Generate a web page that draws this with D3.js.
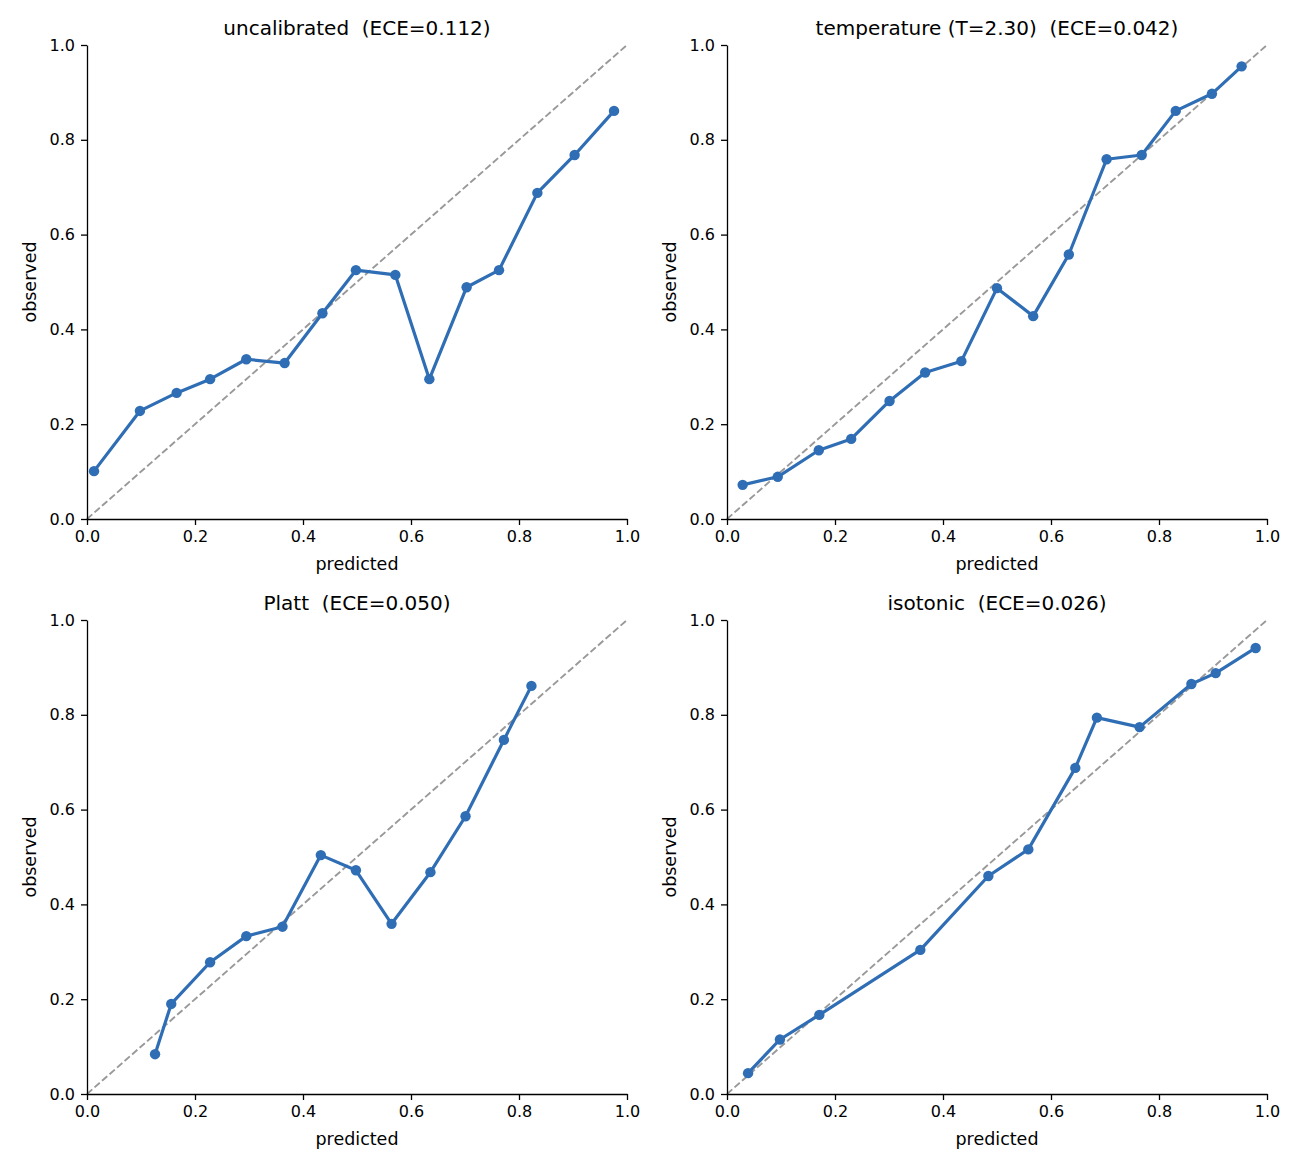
<!DOCTYPE html>
<html>
<head>
<meta charset="utf-8">
<script src="https://cdn.jsdelivr.net/npm/d3@7"></script>
<style>
  body { margin: 0; background: #fff; }
  text { font-family: "DejaVu Sans", sans-serif; fill: #000; white-space: pre; }
  .axis path, .axis line { stroke: #000; stroke-width: 1.3; }
  .axis text { font-size: 16px; }
  .chart-title { font-size: 20px; }
  .chart-axis { font-size: 17.5px; }
</style>
</head>
<body>
<svg id="fig"></svg>
<script>
// reliability bins
const uncalPred = [0.013, 0.098, 0.166, 0.228, 0.295, 0.366, 0.436, 0.498, 0.571, 0.634, 0.703, 0.763, 0.834, 0.903, 0.976];
const uncalObs  = [0.101, 0.228, 0.266, 0.295, 0.337, 0.329, 0.434, 0.525, 0.515, 0.295, 0.489, 0.525, 0.688, 0.768, 0.861];

const tempPred = [0.029, 0.094, 0.170, 0.230, 0.301, 0.367, 0.434, 0.500, 0.567, 0.633, 0.703, 0.768, 0.831, 0.898, 0.953];
const tempObs  = [0.072, 0.089, 0.145, 0.169, 0.249, 0.309, 0.333, 0.487, 0.428, 0.558, 0.759, 0.768, 0.861, 0.897, 0.955];

const plattPred = [0.126, 0.156, 0.228, 0.295, 0.362, 0.433, 0.498, 0.564, 0.636, 0.701, 0.772, 0.823];
const plattObs  = [0.084, 0.190, 0.278, 0.333, 0.353, 0.504, 0.472, 0.359, 0.468, 0.586, 0.747, 0.861];

const isoPred = [0.039, 0.098, 0.171, 0.358, 0.484, 0.558, 0.645, 0.685, 0.764, 0.860, 0.905, 0.979];
const isoObs  = [0.044, 0.115, 0.167, 0.304, 0.460, 0.516, 0.688, 0.794, 0.774, 0.865, 0.888, 0.941];

const panelTitles = ["uncalibrated  (ECE=0.112)", "temperature (T=2.30)  (ECE=0.042)", "Platt  (ECE=0.050)", "isotonic  (ECE=0.026)"];
const tickValues = [0, 0.2, 0.4, 0.6, 0.8, 1.0];

class CalibrationPlot {
    constructor(_config, _pred, _obs){
        this.config = {
            parent: _config.parent,
            left: _config.left,
            top: _config.top,
            width: _config.width || 540,
            height: _config.height || 474,
            title: _config.title
        }
        this.data = _pred.map((p, i) => ({pred: p, obs: _obs[i]}));
        this.initVis();
    }

    initVis(){
        let vis = this;

        vis.xScale = d3.scaleLinear().domain([0, 1]).range([0, vis.config.width]);
        vis.yScale = d3.scaleLinear().domain([0, 1]).range([vis.config.height, 0]);

        vis.chart = vis.config.parent.append('g')
            .attr('transform', `translate(${vis.config.left},${vis.config.top})`);

        // perfect calibration diagonal
        vis.chart.append('path')
            .datum([0, 1])
            .attr('d', d3.line().x(d => vis.xScale(d)).y(d => vis.yScale(d)))
            .attr('stroke', '#999999')
            .attr('stroke-width', 1.9)
            .attr('stroke-dasharray', '7,3')
            .attr('fill', 'none');

        vis.chart.append('path')
            .datum(vis.data)
            .attr('d', d3.line().x(d => vis.xScale(d.pred)).y(d => vis.yScale(d.obs)))
            .attr('stroke', '#2f6eb5')
            .attr('stroke-width', 3.2)
            .attr('stroke-linejoin', 'round')
            .attr('fill', 'none');

        vis.chart.selectAll('circle')
            .data(vis.data)
            .enter()
            .append('circle')
            .attr('cx', d => vis.xScale(d.pred))
            .attr('cy', d => vis.yScale(d.obs))
            .attr('r', 5.2)
            .attr('fill', '#2f6eb5');

        vis.xAxis = d3.axisBottom(vis.xScale)
            .tickValues(tickValues)
            .tickSize(6)
            .tickPadding(6)
            .tickSizeOuter(0)
            .tickFormat(d3.format('.1f'));

        vis.yAxis = d3.axisLeft(vis.yScale)
            .tickValues(tickValues)
            .tickSize(6)
            .tickPadding(6)
            .tickSizeOuter(0)
            .tickFormat(d3.format('.1f'));

        vis.chart.append('g')
            .attr('class', 'axis x-axis')
            .attr('transform', `translate(0,${vis.config.height})`)
            .call(vis.xAxis);

        vis.chart.append('g')
            .attr('class', 'axis y-axis')
            .call(vis.yAxis);

        vis.chart.selectAll('.axis text').attr('font-family', null).attr('font-size', null);

        vis.chart.append('text')
            .attr('class', 'chart-title')
            .attr('x', vis.config.width / 2)
            .attr('y', -10)
            .attr('text-anchor', 'middle')
            .text(vis.config.title);

        vis.chart.append('text')
            .attr('class', 'chart-axis')
            .attr('x', vis.config.width / 2)
            .attr('y', vis.config.height + 51)
            .attr('text-anchor', 'middle')
            .text('predicted');

        vis.chart.append('text')
            .attr('class', 'chart-axis')
            .attr('transform', `translate(-57,${vis.config.height / 2}) rotate(-90)`)
            .attr('dy', '0.35em')
            .attr('text-anchor', 'middle')
            .text('observed');
    }
}

const svg = d3.select('#fig').attr('width', 1300).attr('height', 1170);

new CalibrationPlot({parent: svg, left: 87, top: 45, title: panelTitles[0]}, uncalPred, uncalObs);
new CalibrationPlot({parent: svg, left: 727, top: 45, title: panelTitles[1]}, tempPred, tempObs);
new CalibrationPlot({parent: svg, left: 87, top: 620, title: panelTitles[2]}, plattPred, plattObs);
new CalibrationPlot({parent: svg, left: 727, top: 620, title: panelTitles[3]}, isoPred, isoObs);
</script>
</body>
</html>
